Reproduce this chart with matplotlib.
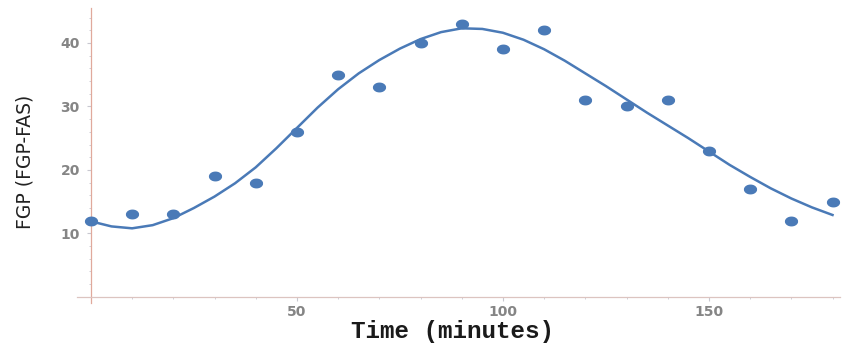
import numpy as np
import matplotlib
matplotlib.use("Agg")
import matplotlib.pyplot as plt
from matplotlib.ticker import MultipleLocator

# measured FGP values, one every 10 minutes
time_min = [0, 10, 20, 30, 40, 50, 60, 70, 80, 90, 100, 110, 120, 130, 140, 150, 160, 170, 180]
fgp = [12, 13, 13, 19, 18, 26, 35, 33, 40, 43, 39, 42, 31, 30, 31, 23, 17, 12, 15]

# fitted curve (every 5 minutes)
fit_time = [0, 5, 10, 15, 20, 25, 30, 35, 40, 45, 50, 55, 60, 65, 70, 75, 80, 85, 90,
            95, 100, 105, 110, 115, 120, 125, 130, 135, 140, 145, 150, 155, 160, 165,
            170, 175, 180]
fit_fgp = [11.9, 11.1, 10.8, 11.3, 12.4, 14.0, 15.8, 17.9, 20.4, 23.4, 26.6, 29.8, 32.7,
           35.2, 37.3, 39.1, 40.6, 41.7, 42.3, 42.2, 41.6, 40.5, 39.0, 37.2, 35.2, 33.2,
           31.1, 29.0, 27.0, 25.0, 22.9, 20.8, 18.9, 17.1, 15.5, 14.1, 12.9]

x_ticks = [50, 100, 150]
y_ticks = [10, 20, 30, 40]

dot_color = "#4a7ab7"
axis_color = "#dcc4c0"
label_grey = "#858585"

# slightly flattened dot, the original picture is stretched a bit sideways
t = np.linspace(0, 2 * np.pi, 40)
ellipse = list(zip(np.cos(t), 0.72 * np.sin(t)))

fig = plt.figure(figsize=(8.45, 3.47), dpi=100)
ax = fig.add_axes([0.091, 0.127, 0.903, 0.85])

ax.plot(fit_time, fit_fgp, color=dot_color, lw=1.8, zorder=2,
        solid_joinstyle="round")
ax.plot(time_min, fgp, linestyle="none", marker=ellipse, color=dot_color,
        markersize=8.5, zorder=3)

ax.set_xlim(-3.4, 181.8)
ax.set_ylim(-0.95, 45.5)

# axes cross at the origin, Mathematica style
for side in ["top", "right"]:
    ax.spines[side].set_visible(False)
ax.spines["left"].set_position(("data", 0))
ax.spines["bottom"].set_position(("data", 0))
ax.spines["left"].set_color("#e0a99c")
ax.spines["bottom"].set_color(axis_color)
ax.spines["left"].set_linewidth(0.9)
ax.spines["bottom"].set_linewidth(0.9)

ax.set_xticks(x_ticks)
ax.set_yticks(y_ticks)
ax.xaxis.set_minor_locator(MultipleLocator(10))
ax.yaxis.set_minor_locator(MultipleLocator(2))
ax.tick_params(axis="both", which="major", length=3, color="#c8c8d0",
               labelsize=10, labelcolor=label_grey)
ax.tick_params(axis="x", which="major", pad=3)
ax.tick_params(axis="y", which="major", pad=5)
ax.tick_params(axis="both", which="minor", length=1.5, color="#c8c8d0")
for lab in ax.get_xticklabels() + ax.get_yticklabels():
    lab.set_fontweight("bold")

fig.text(0.535, 0.045, "Time (minutes)", family=["Liberation Mono", "DejaVu Sans Mono"],
         fontsize=17.5, fontweight="bold", ha="center", va="center", color="#1a1a1a")
fig.text(0.03, 0.533, "FGP (FGP-FAS)",
         family=["Liberation Sans Narrow", "DejaVu Sans"],
         fontsize=13.5, rotation=90, ha="center", va="center", color="#222222")

fig.savefig("out.png", dpi=100)
